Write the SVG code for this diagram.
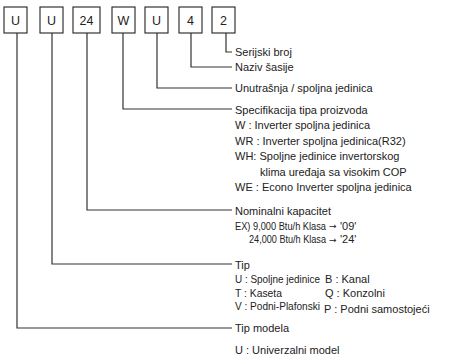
<svg xmlns="http://www.w3.org/2000/svg" width="450" height="361" viewBox="0 0 450 361">
<style>
.box{fill:#fff;stroke:#222;stroke-width:1.1}
.bt{font-family:"Liberation Sans",Arial,sans-serif;font-size:12.5px;fill:#222;text-anchor:middle}
.t{font-family:"Liberation Sans",Arial,sans-serif;font-size:11px;fill:#222}
.ar{font-family:"DejaVu Sans",sans-serif;font-size:9px;fill:#222}
.c{fill:none;stroke:#333;stroke-width:1.2}
</style>
<rect width="450" height="361" fill="#fff"/>
<g id="connectors">
<path class="c" d="M226 33V52H232"/>
<path class="c" d="M191 33V67H232"/>
<path class="c" d="M157 33V88H232"/>
<path class="c" d="M123 33V109H232"/>
<path class="c" d="M87 33V210H232"/>
<path class="c" d="M52 33V264H232"/>
<path class="c" d="M17 33V328H232"/>
</g>
<g id="n1"><rect class="box" x="4" y="7" width="23" height="26"/><text class="bt" x="15.5" y="25">U</text></g>
<g id="n2"><rect class="box" x="40" y="7" width="23" height="26"/><text class="bt" x="51.5" y="25">U</text></g>
<g id="n3"><rect class="box" x="73" y="7" width="27" height="26"/><text class="bt" x="86.5" y="25">24</text></g>
<g id="n4"><rect class="box" x="112" y="7" width="23" height="26"/><text class="bt" x="123.5" y="25">W</text></g>
<g id="n5"><rect class="box" x="145" y="7" width="23" height="26"/><text class="bt" x="156.5" y="25">U</text></g>
<g id="n6"><rect class="box" x="179" y="7" width="23" height="26"/><text class="bt" x="190.5" y="25">4</text></g>
<g id="n7"><rect class="box" x="212" y="7" width="23" height="26"/><text class="bt" x="223.5" y="25">2</text></g>
<g id="l-serial"><text class="t" x="235" y="56">Serijski broj</text></g>
<g id="l-chassis"><text class="t" x="235" y="71">Naziv šasije</text></g>
<g id="l-unit"><text class="t" x="235" y="92">Unutrašnja / spoljna jedinica</text></g>
<g id="l-spec">
<text class="t" x="235" y="113.5">Specifikacija tipa proizvoda</text>
<text class="t" x="235" y="129">W : Inverter spoljna jedinica</text>
<text class="t" x="235" y="144.5">WR : Inverter spoljna jedinica(R32)</text>
<text class="t" x="235" y="160">WH: Spoljne jedinice invertorskog</text>
<text class="t" x="260" y="175.5">klima uređaja sa visokim COP</text>
<text class="t" x="235" y="191">WE : Econo Inverter spoljna jedinica</text>
</g>
<g id="l-cap">
<text class="t" x="235" y="214.5">Nominalni kapacitet</text>
<text class="t" x="235" y="229.5" textLength="91" lengthAdjust="spacingAndGlyphs">EX) 9,000 Btu/h Klasa</text>
<text class="ar" x="329" y="229">→</text>
<text class="t" x="340" y="229.5">'09'</text>
<text class="t" x="249" y="243" textLength="77" lengthAdjust="spacingAndGlyphs">24,000 Btu/h Klasa</text>
<text class="ar" x="329" y="242.5">→</text>
<text class="t" x="340" y="243">'24'</text>
</g>
<g id="l-type">
<text class="t" x="235" y="268.5">Tip</text>
<text class="t" x="235" y="282.5" textLength="85" lengthAdjust="spacingAndGlyphs">U : Spoljne jedinice</text>
<text class="t" x="325" y="282.5">B : Kanal</text>
<text class="t" x="235" y="296.5" textLength="47" lengthAdjust="spacingAndGlyphs">T : Kaseta</text>
<text class="t" x="325" y="296.5">Q : Konzolni</text>
<text class="t" x="235" y="310" textLength="85" lengthAdjust="spacingAndGlyphs">V : Podni-Plafonski</text>
<text class="t" x="324" y="312.5" font-size="12.5px">P : Podni samostojeći</text>
</g>
<g id="l-model">
<text class="t" x="235" y="332">Tip modela</text>
<text class="t" x="235" y="354">U : Univerzalni model</text>
</g>
</svg>
